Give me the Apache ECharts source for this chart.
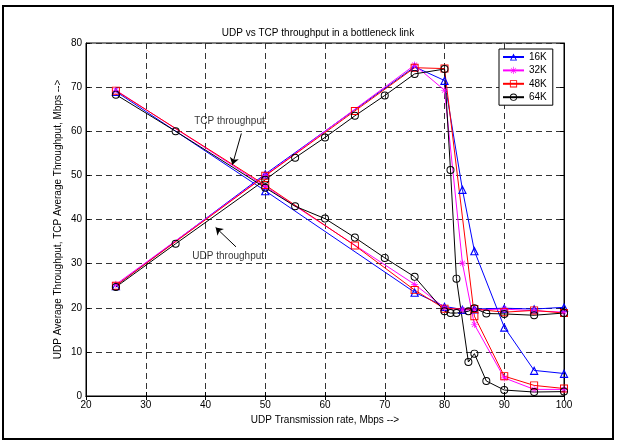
<!DOCTYPE html>
<html>
<head>
<meta charset="utf-8">
<script src="https://cdn.jsdelivr.net/npm/echarts@6/dist/echarts.min.js"></script>
<style>html,body{margin:0;padding:0;background:#fff}#c{width:617px;height:442px}</style>
</head>
<body>
<div id="c"></div>
<script>
// ---- data ----
var xTicks = [20, 30, 40, 50, 60, 70, 80, 90, 100];
var yTicks = [0, 10, 20, 30, 40, 50, 60, 70, 80];
var seriesNames = ['16K', '32K', '48K', '64K'];

var x16 = [25, 50, 75, 80, 83, 85, 90, 95, 100];
var udp16 = [25, 50.3, 74.6, 71.5, 46.8, 32.9, 15.6, 5.8, 5.1];
var tcp16 = [69, 46.5, 23.5, 20.3, 19.6, 19.7, 19.9, 19.7, 20.1];

var x32 = [25, 50, 75, 80, 83, 85, 90, 95, 100];
var udp32 = [25.3, 50, 75, 69.3, 30.1, 16.2, 4.1, 1.5, 1.5];
var tcp32 = [69.3, 47.5, 25.3, 20, 19.5, 19.5, 19.7, 19.3, 19.0];

var x48 = [25, 50, 65, 75, 80, 85, 90, 95, 100];
var udp48 = [25, 49.9, 64.6, 74.4, 74.2, 18.1, 4.5, 2.4, 1.7];
var tcp48 = [69.2, 47.8, 34.1, 24, 19.8, 19.7, 19.0, 19.4, 18.8];

var x64 = [25, 35, 50, 55, 60, 65, 70, 75, 80, 81, 82, 84, 85, 87, 90, 95, 100];
var udp64 = [24.7, 34.5, 49, 54, 58.6, 63.5, 68.1, 73, 74.1, 51.2, 26.6, 7.7, 9.6, 3.4, 1.35, 0.9, 1.0];
var tcp64 = [68.3, 60, 47.2, 43, 40.2, 35.9, 31.3, 27, 19.2, 18.8, 18.8, 19.2, 19.9, 18.7, 18.6, 18.3, 18.8];

var annotTexts = ['TCP throughput', 'UDP throughput'];
var annotTextPos = [[38.1, 62.2], [37.8, 31.6]];
var arrowFrom = [[46.0, 59.5], [45.1, 33.8]];
var arrowTo = [[44.5, 52.4], [41.7, 38.2]];

// ---- chart ----
var FONT = "'Liberation Sans', Arial, sans-serif";
function pairs(xs, ys) { return xs.map(function (x, i) { return [x, ys[i]]; }); }

// hollow marker outlines (outer contour + reversed inner contour -> hole)
var star = 'path://M-5,-0.45L5,-0.45L5,0.45L-5,0.45Z M-0.45,-5L0.45,-5L0.45,5L-0.45,5Z ' +
  'M-3.85,-3.2L-3.2,-3.85L3.85,3.2L3.2,3.85Z M3.85,-3.2L3.2,-3.85L-3.85,3.2L-3.2,3.85Z';
var ring = 'path://M-5,0A5,5,0,1,1,5,0A5,5,0,1,1,-5,0Z M-3.8,0A3.8,3.8,0,1,0,3.8,0A3.8,3.8,0,1,0,-3.8,0Z';
var sq = 'path://M-5,-5L5,-5L5,5L-5,5Z M-3.8,-3.8L-3.8,3.8L3.8,3.8L3.8,-3.8Z';
var tri = 'path://M0,-5L5,4L-5,4Z M0,-2.2L-3.0,2.85L3.0,2.85Z';

var styles = {
  '16K': { color: '#0000ff', symbol: tri, size: 9 },
  '32K': { color: '#ff00ff', symbol: star, size: 7 },
  '48K': { color: '#ff0000', symbol: sq, size: 8 },
  '64K': { color: '#000000', symbol: ring, size: 8 }
};
var dataSets = {
  '16K': [x16, udp16, tcp16],
  '32K': [x32, udp32, tcp32],
  '48K': [x48, udp48, tcp48],
  '64K': [x64, udp64, tcp64]
};

var series = [];
seriesNames.forEach(function (n) {
  var s = styles[n], d = dataSets[n];
  [d[1], d[2]].forEach(function (ys) {
    series.push({
      name: n, type: 'line', data: pairs(d[0], ys),
      xAxisIndex: 0, yAxisIndex: 0,
      symbol: s.symbol, symbolSize: s.size, showAllSymbol: true,
      lineStyle: { color: s.color, width: 1 },
      itemStyle: { color: s.color, borderWidth: 0 },
      emphasis: { disabled: true },
      animation: false, z: 3
    });
  });
});

series.push({
  name: 'annot', type: 'scatter', symbolSize: 0, silent: true, animation: false,
  data: annotTexts.map(function (t, i) { return { name: t, value: annotTextPos[i] }; }),
  label: { show: true, position: 'right', distance: 0, formatter: '{b}', color: '#000', fontSize: 10, fontFamily: FONT },
  markLine: {
    silent: true, animation: false,
    symbol: ['none', 'arrow'], symbolSize: 7,
    lineStyle: { color: '#000', width: 1, type: 'solid' },
    itemStyle: { color: '#000' },
    label: { show: false },
    emphasis: { disabled: true },
    data: arrowFrom.map(function (f, i) { return [{ coord: f }, { coord: arrowTo[i] }]; })
  }
});

var axisCommon = {
  type: 'value', interval: 10,
  axisLine: { show: true, lineStyle: { color: '#000', width: 1 } },
  axisTick: { show: true, inside: true, length: 4, lineStyle: { color: '#000' } }
};

var option = {
  backgroundColor: '#fff',
  animation: false,
  textStyle: { fontFamily: FONT },
  grid: { left: 86, right: 53, top: 43, bottom: 46, show: true, borderColor: '#000', borderWidth: 1, backgroundColor: 'transparent' },
  legend: {
    data: seriesNames, orient: 'vertical', left: 499, top: 49,
    itemWidth: 21, itemHeight: 9, itemGap: 3.4,
    padding: [3, 6, 3, 3],
    backgroundColor: '#fff', borderColor: '#000', borderWidth: 1,
    textStyle: { fontSize: 10, color: '#000', fontFamily: FONT },
    itemStyle: { borderWidth: 0 },
    selectedMode: false
  },
  xAxis: [
    Object.assign({}, axisCommon, {
      min: xTicks[0], max: xTicks[xTicks.length - 1], position: 'bottom',
      axisLabel: { color: '#000', fontSize: 10, margin: 4, fontFamily: FONT },
      splitLine: { show: true, lineStyle: { color: '#333', type: [6, 4], width: 1 } },
      name: 'UDP Transmission rate, Mbps -->', nameLocation: 'middle', nameGap: 19, nameMoveOverlap: false,
      nameTextStyle: { color: '#000', fontSize: 10, fontFamily: FONT }
    }),
    Object.assign({}, axisCommon, {
      min: xTicks[0], max: xTicks[xTicks.length - 1], position: 'top',
      axisLabel: { show: false }, splitLine: { show: false }
    })
  ],
  yAxis: [
    Object.assign({}, axisCommon, {
      min: yTicks[0], max: yTicks[yTicks.length - 1], position: 'left',
      axisLabel: { color: '#000', fontSize: 10, margin: 4, fontFamily: FONT },
      splitLine: { show: true, lineStyle: { color: '#333', type: [6, 4], width: 1 } },
      name: 'UDP Average Throughput, TCP Average Throughput, Mbps -->', nameLocation: 'middle', nameGap: 23, nameMoveOverlap: false,
      nameTextStyle: { color: '#000', fontSize: 10, fontFamily: FONT }
    }),
    Object.assign({}, axisCommon, {
      min: yTicks[0], max: yTicks[yTicks.length - 1], position: 'right',
      axisLabel: { show: false }, splitLine: { show: false }
    })
  ],
  graphic: [
    { type: 'rect', silent: true, z: 100, shape: { x: 3, y: 6, width: 610, height: 433 },
      style: { fill: 'none', stroke: '#000', lineWidth: 2 } },
    { type: 'text', silent: true, x: 318, y: 33,
      style: { text: 'UDP vs TCP throughput in a bottleneck link', fill: '#000', font: '10px ' + FONT, textAlign: 'center', textVerticalAlign: 'middle' } }
  ],
  series: series
};

var chart = echarts.init(document.getElementById('c'), null, { renderer: 'canvas' });
chart.setOption(option);
</script>
</body>
</html>
